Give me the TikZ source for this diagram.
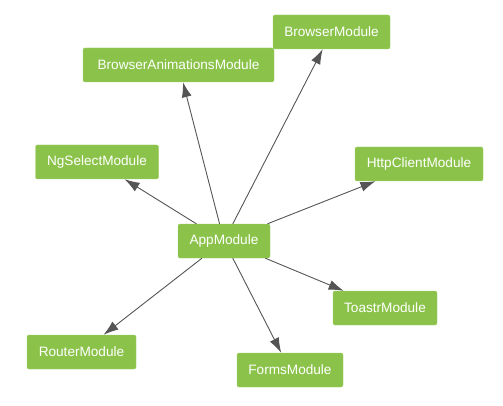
\documentclass[tikz,border=0pt]{standalone}
\usepackage{fontspec}
\setmainfont{Liberation Sans}
\usetikzlibrary{arrows.meta}
\definecolor{modgreen}{HTML}{8BC34A}
\definecolor{edgegray}{HTML}{555555}

\begin{document}
\begin{tikzpicture}[x=1pt,y=-1pt,
  module/.style={fill=modgreen,draw=modgreen!85!white,rounded corners=2pt,
    text=white,font=\fontsize{13.6}{15}\selectfont,minimum height=34pt,inner xsep=0pt},
  dep/.style={edgegray,line width=0.9pt,-{Latex[length=15pt,width=10pt]}}]
  \useasboundingbox (0,0) rectangle (503,406);
  \node[module,minimum width=92pt]  (app)     at (224,241) {AppModule};
  \node[module,minimum width=117pt] (browser) at (331.5,32) {BrowserModule};
  \node[module,minimum width=191pt] (anim)    at (178.5,65) {BrowserAnimationsModule};
  \node[module,minimum width=123pt] (ngsel)   at (97,162) {NgSelectModule};
  \node[module,minimum width=128pt] (http)    at (419,164) {HttpClientModule};
  \node[module,minimum width=104pt] (toastr)  at (385,308) {ToastrModule};
  \node[module,minimum width=109pt] (router)  at (81.5,352) {RouterModule};
  \node[module,minimum width=106pt] (forms)   at (290,370) {FormsModule};
  \foreach \m in {browser,anim,ngsel,http,toastr,router,forms}
    \draw[dep] (app) -- (\m);
\end{tikzpicture}
\end{document}
